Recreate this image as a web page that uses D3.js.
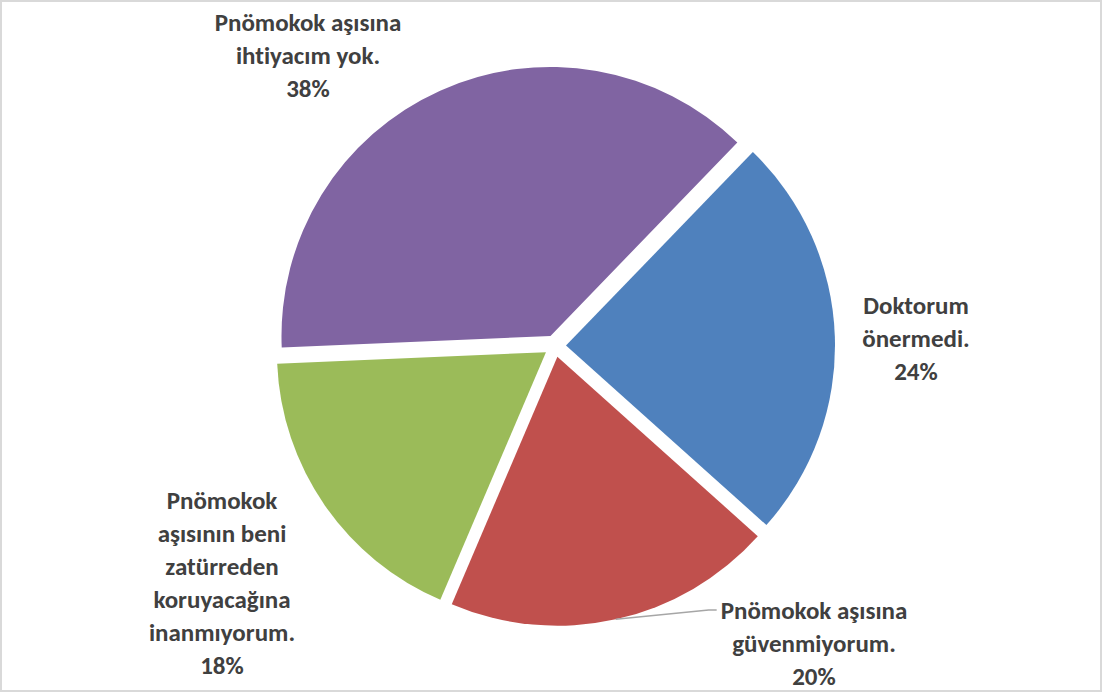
<!DOCTYPE html>
<html>
<head>
<meta charset="utf-8">
<script src="https://cdn.jsdelivr.net/npm/d3@7"></script>
<style>
  html, body { margin: 0; padding: 0; background: #fff; }
  svg { display: block; }
</style>
</head>
<body>
<div id="chart"></div>
<script>

// -- DATA

var categories = [
  "Doktorum\nönermedi.",
  "Pnömokok aşısına\ngüvenmiyorum.",
  "Pnömokok\naşısının beni\nzatürreden\nkoruyacağına\ninanmıyorum.",
  "Pnömokok aşısına\nihtiyacım yok."
];
var values = [24.4, 19.8, 17.9, 37.9];
var colors = ["#4F81BD", "#C0504D", "#9BBB59", "#8064A2"];

// -- LAYOUT

var WIDTH = 1103, HEIGHT = 695;
var cx = 555, cy = 346;
var radius = 269;
var explode = 11;
var startDeg = 44;
var lineHeight = 33;
// label block centres (Excel "best fit" placement)
var labelCenters = [[916, 338], [814, 643], [222, 583], [308, 55]];

var svg = d3.select("#chart").append("svg")
  .attr("width", WIDTH)
  .attr("height", HEIGHT);

svg.append("rect")
  .attr("x", 1).attr("y", 1)
  .attr("width", 1100).attr("height", 690)
  .attr("fill", "#fff")
  .attr("stroke", "#d9d9d9")
  .attr("stroke-width", 2);

var total = d3.sum(values);
var start = startDeg * Math.PI / 180;

var pie = d3.pie()
  .sort(null)
  .startAngle(start)
  .endAngle(start + 2 * Math.PI);

var arc = d3.arc()
  .innerRadius(0)
  .outerRadius(radius);

var arcs = pie(values);

var slices = svg.append("g")
  .attr("transform", "translate(" + cx + "," + cy + ")");

slices.selectAll("path")
  .data(arcs)
  .enter()
  .append("path")
  .attr("d", arc)
  .attr("fill", function(d, i) { return colors[i]; })
  .attr("transform", function(d) {
    var mid = (d.startAngle + d.endAngle) / 2;
    return "translate(" + (explode * Math.sin(mid)) + "," + (-explode * Math.cos(mid)) + ")";
  });

// -- LABELS

var labels = svg.append("g")
  .style("font-family", "Carlito, Lato, 'Open Sans', sans-serif")
  .style("font-weight", "bold")
  .style("font-size", "25px")
  .style("font-variant-ligatures", "none")
  .attr("fill", "#404040");

var labelWidths = [];
arcs.forEach(function(d, i) {
  var lines = categories[i].split("\n");
  lines.push(Math.round(values[i] / total * 100) + "%");
  var top = labelCenters[i][1] - (lines.length - 1) * lineHeight / 2;
  var text = labels.append("text")
    .attr("text-anchor", "middle");
  lines.forEach(function(line, j) {
    text.append("tspan")
      .attr("x", labelCenters[i][0])
      .attr("y", top + j * lineHeight)
      .attr("dy", "0.35em")
      .text(line);
  });
  labelWidths.push(text.select("tspan").node().getComputedTextLength());
});

// leader line for the red slice
(function() {
  var d = arcs[1];
  var mid = (d.startAngle + d.endAngle) / 2;
  var ox = cx + explode * Math.sin(mid), oy = cy - explode * Math.cos(mid);
  var sx = ox + radius * Math.sin(mid), sy = oy - radius * Math.cos(mid);
  var firstY = labelCenters[1][1] - lineHeight;
  var ex = labelCenters[1][0] - labelWidths[1] / 2 - 4;
  svg.append("polyline")
    .attr("points", [[sx, sy], [ex - 8, firstY], [ex, firstY]].map(function(p) { return p.join(","); }).join(" "))
    .attr("fill", "none")
    .attr("stroke", "#a6a6a6")
    .attr("stroke-width", 1.5);
})();

</script>
</body>
</html>
